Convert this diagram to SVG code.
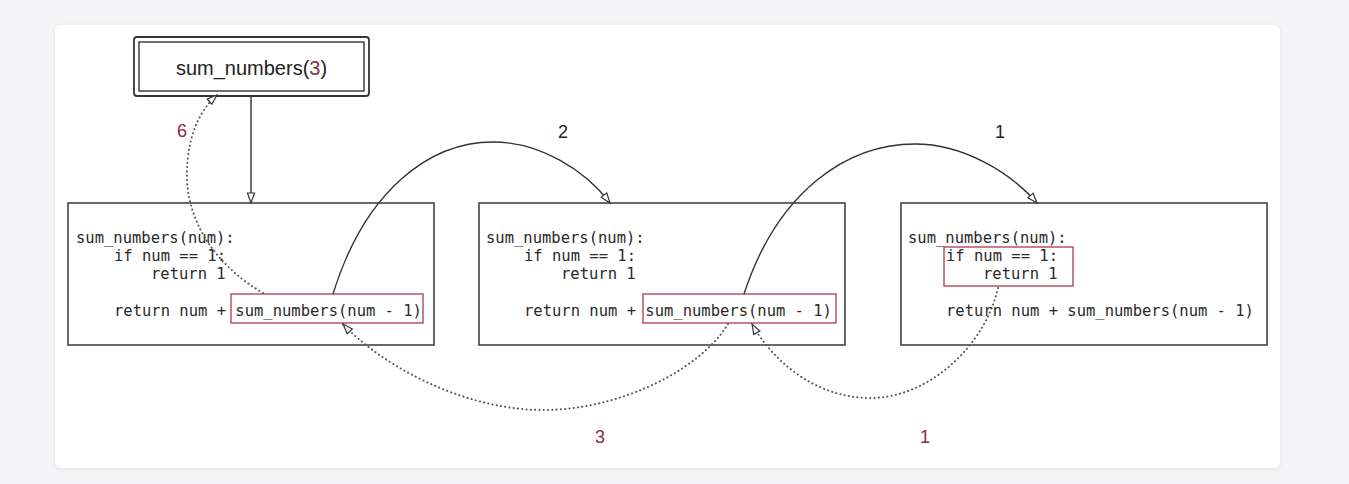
<svg xmlns="http://www.w3.org/2000/svg" width="1349" height="484" viewBox="0 0 1349 484">
<defs>
<style>
.box{fill:#fff;stroke:#444;stroke-width:1.6}
.hl{fill:none;stroke:#b4475a;stroke-width:1.4}
.code{font-family:"DejaVu Sans Mono","Liberation Mono",monospace;font-size:15.5px;fill:#2a2a2a}
.lbl{font-family:"Liberation Sans",Arial,sans-serif;font-size:18px;fill:#222}
.red{fill:#8c2b48}
.solid{fill:none;stroke:#333;stroke-width:1.4}
.dot{fill:none;stroke:#555;stroke-width:2;stroke-dasharray:0.1 4.2;stroke-linecap:round}
</style>
<marker id="ah" markerUnits="userSpaceOnUse" markerWidth="12" markerHeight="9" refX="11" refY="4" orient="auto" viewBox="0 0 12 8">
<path d="M1,0.5 L11,4 L1,7.5 z" fill="#fff" stroke="#333" stroke-width="1.2"/>
</marker>
<filter id="sh" x="-5%" y="-5%" width="110%" height="110%">
<feDropShadow dx="0" dy="1" stdDeviation="2" flood-color="#000" flood-opacity="0.08"/>
</filter>
</defs>
<rect x="0" y="0" width="1349" height="484" fill="#f4f4f6"/>
<rect x="55" y="25" width="1225" height="443" rx="6" fill="#fff" filter="url(#sh)"/>

<g id="start">
<rect x="134" y="37" width="235" height="59" rx="3" fill="#fff" stroke="#333" stroke-width="1.8"/>
<rect x="139" y="42" width="225" height="49" fill="none" stroke="#333" stroke-width="1.4"/>
<text class="lbl" x="251.5" y="75" text-anchor="middle" style="font-size:20px">sum_numbers(<tspan class="red">3</tspan>)</text>
</g>

<g id="call1">
<rect class="box" x="68" y="203" width="366" height="142"/>
<text class="code" x="76" y="243">sum_numbers(num):</text>
<text class="code" x="114" y="261">if num == 1:</text>
<text class="code" x="151" y="279">return 1</text>
<text class="code" x="114" y="316">return num + sum_numbers(num - 1)</text>
<rect class="hl" x="231" y="294" width="192" height="29"/>
</g>

<g id="call2">
<rect class="box" x="479" y="203" width="366" height="142"/>
<text class="code" x="486" y="243">sum_numbers(num):</text>
<text class="code" x="524" y="261">if num == 1:</text>
<text class="code" x="561" y="279">return 1</text>
<text class="code" x="524" y="316">return num + sum_numbers(num - 1)</text>
<rect class="hl" x="643" y="294" width="193" height="29"/>
</g>

<g id="call3">
<rect class="box" x="901" y="203" width="366" height="142"/>
<text class="code" x="908" y="243">sum_numbers(num):</text>
<text class="code" x="946" y="261">if num == 1:</text>
<text class="code" x="983" y="279">return 1</text>
<text class="code" x="946" y="316">return num + sum_numbers(num - 1)</text>
<rect class="hl" x="944" y="247" width="129" height="39"/>
</g>

<g id="connectors">
<path class="solid" d="M251,96 L251,203" marker-end="url(#ah)"/>
<path class="solid" d="M333,294 C365,190 430,142 493,142 C540,142 585,170 610,203" marker-end="url(#ah)"/>
<path class="solid" d="M744,294 C778,190 848,144 915,144 C963,144 1010,172 1037,203" marker-end="url(#ah)"/>
<path class="dot" d="M998,288 C985,345 930,398 870,398 C815,398 772,360 752,324" marker-end="url(#ah)"/>
<path class="dot" d="M728,324 C700,370 620,410 543,410 C460,410 378,362 343,324" marker-end="url(#ah)"/>
<path class="dot" d="M263,293 C215,265 185,220 187,170 C188,135 200,110 217,95" marker-end="url(#ah)"/>
<text class="lbl" x="563" y="138" text-anchor="middle">2</text>
<text class="lbl" x="1000" y="138" text-anchor="middle">1</text>
<text class="lbl red" x="182" y="137" text-anchor="middle">6</text>
<text class="lbl red" x="600" y="443" text-anchor="middle">3</text>
<text class="lbl red" x="925" y="443" text-anchor="middle">1</text>
</g>
</svg>
